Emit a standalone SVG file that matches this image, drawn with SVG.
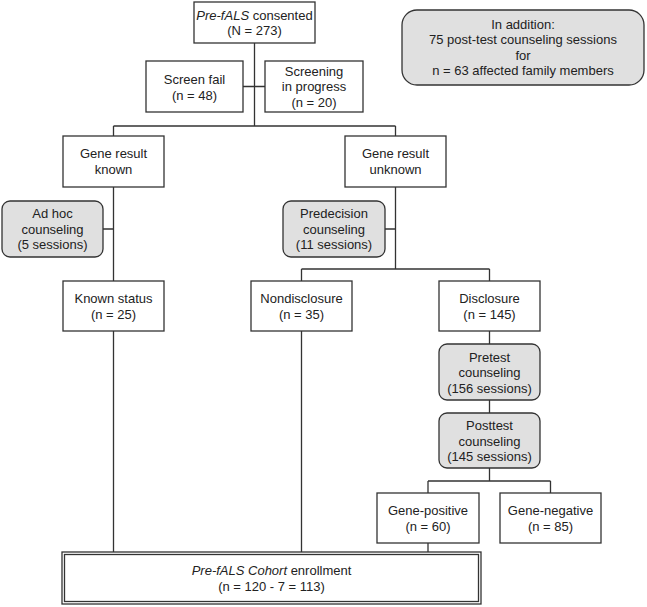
<svg xmlns="http://www.w3.org/2000/svg" width="647" height="607" viewBox="0 0 647 607">
<style>
.box{fill:#fff;stroke:#333;stroke-width:1.3}
.grey{fill:#e0e0e0;stroke:#333;stroke-width:1.3}
.ln{stroke:#333;stroke-width:1.3;fill:none}
text{font-family:"Liberation Sans",Arial,sans-serif;font-size:13px;fill:#222;text-anchor:middle}
</style>
<rect width="647" height="607" fill="#fff"/>
<g id="connectors" class="ln">
<path d="M254.5 43V126M243 86.5H265M113.5 126H395.5M113.5 126V136M395.5 126V136"/>
<path d="M113.5 187V281M103 229H113.5M395.5 187V269M385 229H395.5"/>
<path d="M301.5 269H489.5M301.5 269V281M489.5 269V281"/>
<path d="M489.5 331V344M489.5 400V413M489.5 468V481M428 481H550.5M428 481V493M550.5 481V493"/>
<path d="M113.5 331V552M301.5 331V552M428 543V552"/>
</g>
<g id="consented"><rect class="box" x="194" y="2" width="121" height="41"/><text x="254.5" y="19.5"><tspan font-style="italic">Pre-fALS</tspan> consented</text><text x="254.5" y="35">(N = 273)</text></g>
<g id="screenfail"><rect class="box" x="146" y="61" width="97" height="51"/><text x="194.5" y="83.5">Screen fail</text><text x="194.5" y="99.5">(n = 48)</text></g>
<g id="screening"><rect class="box" x="265" y="61" width="98" height="51"/><text x="314" y="75.5">Screening</text><text x="314" y="91">in progress</text><text x="314" y="106.5">(n = 20)</text></g>
<g id="addition"><rect class="grey" x="402" y="10" width="242" height="75" rx="15"/><text x="523" y="28.5">In addition:</text><text x="523" y="44">75 post-test counseling sessions</text><text x="523" y="59.5">for</text><text x="523" y="75">n = 63 affected family members</text></g>
<g id="geneknown"><rect class="box" x="63" y="136" width="101" height="51"/><text x="113.5" y="158">Gene result</text><text x="113.5" y="174">known</text></g>
<g id="geneunknown"><rect class="box" x="345" y="136" width="101" height="51"/><text x="395.5" y="158">Gene result</text><text x="395.5" y="174">unknown</text></g>
<g id="adhoc"><rect class="grey" x="2" y="201" width="101" height="56" rx="8"/><text x="52.5" y="218">Ad hoc</text><text x="52.5" y="233.5">counseling</text><text x="52.5" y="249">(5 sessions)</text></g>
<g id="predecision"><rect class="grey" x="283" y="201" width="102" height="56" rx="8"/><text x="334" y="218">Predecision</text><text x="334" y="233.5">counseling</text><text x="334" y="249">(11 sessions)</text></g>
<g id="knownstatus"><rect class="box" x="63" y="281" width="101" height="50"/><text x="113.5" y="302.5">Known status</text><text x="113.5" y="318.5">(n = 25)</text></g>
<g id="nondisclosure"><rect class="box" x="251" y="281" width="101" height="50"/><text x="301.5" y="302.5">Nondisclosure</text><text x="301.5" y="318.5">(n = 35)</text></g>
<g id="disclosure"><rect class="box" x="439" y="281" width="101" height="50"/><text x="489.5" y="302.5">Disclosure</text><text x="489.5" y="318.5">(n = 145)</text></g>
<g id="pretest"><rect class="grey" x="439" y="344" width="101" height="56" rx="8"/><text x="489.5" y="361.5">Pretest</text><text x="489.5" y="377">counseling</text><text x="489.5" y="392.5">(156 sessions)</text></g>
<g id="posttest"><rect class="grey" x="439" y="413" width="101" height="55" rx="8"/><text x="489.5" y="430">Posttest</text><text x="489.5" y="445.5">counseling</text><text x="489.5" y="461">(145 sessions)</text></g>
<g id="genepositive"><rect class="box" x="377" y="493" width="102" height="50"/><text x="428" y="514.5">Gene-positive</text><text x="428" y="530.5">(n = 60)</text></g>
<g id="genenegative"><rect class="box" x="500" y="493" width="101" height="50"/><text x="550.5" y="514.5">Gene-negative</text><text x="550.5" y="530.5">(n = 85)</text></g>
<g id="enrollment"><rect class="box" x="62" y="552" width="419" height="52" stroke-width="1.6"/><rect class="box" x="64.5" y="554.5" width="414" height="47" stroke-width="0.9"/><text x="271.5" y="574.5"><tspan font-style="italic">Pre-fALS Cohort</tspan> enrollment</text><text x="271.5" y="590.5">(n = 120 - 7 = 113)</text></g>
</svg>
